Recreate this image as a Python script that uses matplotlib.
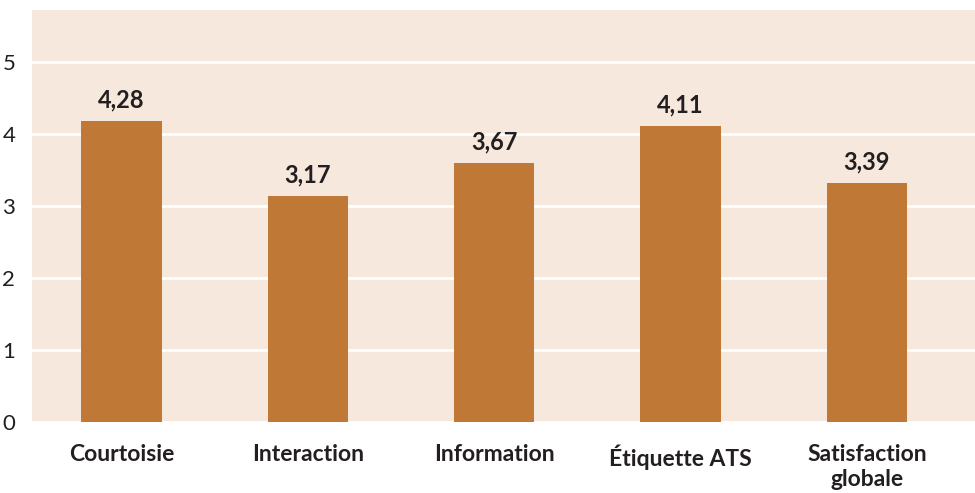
import matplotlib.pyplot as plt

categories = ['Courtoisie', 'Interaction', 'Information', 'Étiquette ATS', 'Satisfaction\nglobale']
bar_heights = [4.18, 3.14, 3.60, 4.11, 3.32]
value_labels = ['4,28', '3,17', '3,67', '4,11', '3,39']
y_ticks = [0, 1, 2, 3, 4, 5]

BG = '#f6e8dc'
BAR = '#c07837'
TXT = '#231f20'
FONT = ['Lato', 'DejaVu Sans']

fig = plt.figure(figsize=(9.75, 4.93), dpi=100)
ax = fig.add_axes([32 / 975, 71 / 493, 943 / 975, 412 / 493])
ax.set_facecolor(BG)

x = range(len(categories))
ax.bar(x, bar_heights, width=0.43, color=BAR, zorder=3)

for xi, h, lab in zip(x, bar_heights, value_labels):
    ax.annotate(lab, (xi, h), xytext=(0, 7), textcoords='offset points',
                ha='center', va='bottom', fontsize=17, fontweight='bold',
                color=TXT, family=FONT)

ax.set_ylim(0, 5.72)
ax.set_xlim(-0.48, 4.58)
ax.set_yticks(y_ticks)
ax.set_yticklabels([str(t) for t in y_ticks], family=FONT, fontsize=16, color=TXT)
ax.set_xticks(list(x))
ax.set_xticklabels(categories, family=FONT, fontsize=16.5, fontweight='bold',
                   color=TXT, linespacing=1.2, va='top')
ax.grid(axis='y', color='white', linewidth=2, zorder=1)
ax.tick_params(axis='both', length=0)
ax.tick_params(axis='y', pad=12)
ax.tick_params(axis='x', pad=16)
for s in ax.spines.values():
    s.set_visible(False)

fig.savefig('out.png', dpi=100)
